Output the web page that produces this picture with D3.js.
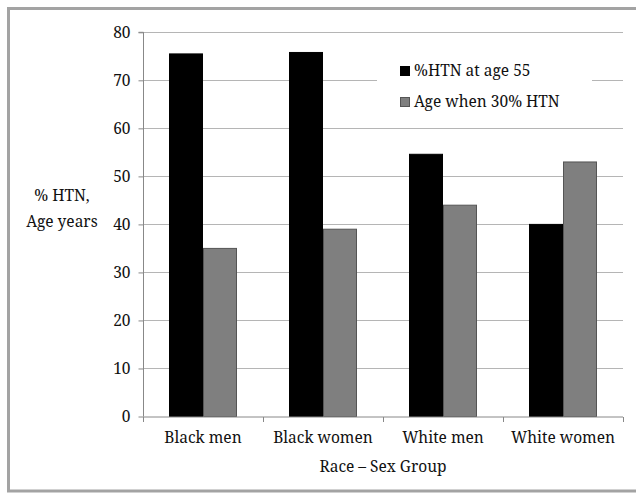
<!DOCTYPE html>
<html><head><meta charset="utf-8">
<script src="https://cdn.jsdelivr.net/npm/d3@7"></script>
<style>body{margin:0;background:#fff;}</style></head>
<body><svg id="c" width="636" height="493"></svg>
<script>
const categories = ["Black men","Black women","White men","White women"];
const seriesNames = ["%HTN at age 55","Age when 30% HTN"];
const htnAt55 = [75.5, 75.8, 54.6, 40];
const ageAt30 = [35, 39, 44, 53];
const yTicks = [0,10,20,30,40,50,60,70,80];
const colors = ["#000000","#7f7f7f"];
const strokes = ["#000000","#555555"];
const FONT = '"Noto Serif", "Liberation Serif", serif';
const FS = 15.5;

const svg = d3.select("#c");
// frame
svg.append("rect").attr("x",8.5).attr("y",8.5).attr("width",640).attr("height",482.5)
  .attr("fill","#fff").attr("stroke","#a3a3a3").attr("stroke-width",3);

const pL=143, pR=623, pT=32.3, pB=416.5;
const x = d3.scaleBand().domain(categories).range([pL,pR]);
const y = d3.scaleLinear().domain([0,80]).range([pB,pT]);
const xs = d3.scaleBand().domain([0,1]).range([0,68]);

// gridlines
svg.append("g").selectAll("line").data(yTicks.filter(d=>d>0)).join("line")
  .attr("x1",pL).attr("x2",pR).attr("y1",d=>Math.round(y(d))+0.5).attr("y2",d=>Math.round(y(d))+0.5)
  .attr("stroke","#b5b5b5").attr("stroke-width",1);

// legend background
svg.append("rect").attr("x",377).attr("y",50).attr("width",215).attr("height",66).attr("fill","#fff");

// bars
const data = categories.map((c,i)=>({c, v:[htnAt55[i], ageAt30[i]]}));
const g = svg.append("g").selectAll("g").data(data).join("g")
  .attr("transform",d=>`translate(${x(d.c)+x.bandwidth()/2-34},0)`);
g.selectAll("rect").data(d=>d.v.map((v,k)=>({v,k}))).join("rect")
  .attr("x",d=>xs(d.k)+0.5).attr("width",xs.bandwidth()-1)
  .attr("y",d=>y(d.v)).attr("height",d=>pB-y(d.v))
  .attr("fill",d=>colors[d.k]).attr("stroke",d=>strokes[d.k]).attr("stroke-width",1);

// y axis
const ya = svg.append("g").attr("transform",`translate(${pL+0.5},0)`)
  .call(d3.axisLeft(y).tickValues(yTicks).tickSize(5).tickPadding(8));
ya.attr("font-family",FONT).attr("font-size",FS);
ya.select(".domain").attr("stroke","#888").attr("d",`M-5,${pT}H0V${pB}`);
ya.selectAll(".tick line").attr("stroke","#888");
ya.selectAll(".tick text").attr("fill","#111");

// x axis
const xa = svg.append("g").attr("transform",`translate(0,${pB+0.5})`);
xa.append("line").attr("x1",pL).attr("x2",pR).attr("stroke","#888");
const bounds = categories.map(c=>x(c)).concat([pR]);
xa.selectAll("line.t").data(bounds).join("line").attr("class","t")
  .attr("x1",d=>Math.round(d)+0.5).attr("x2",d=>Math.round(d)+0.5).attr("y1",0).attr("y2",5).attr("stroke","#888");
xa.selectAll("text").data(categories).join("text")
  .attr("x",d=>x(d)+x.bandwidth()/2).attr("y",26).attr("text-anchor","middle")
  .attr("font-family",FONT).attr("font-size",FS).attr("fill","#111").text(d=>d);

// axis titles
function label(t,xx,yy){
  svg.append("text").attr("x",xx).attr("y",yy).attr("text-anchor","middle")
    .attr("font-family",FONT).attr("font-size",FS).attr("fill","#111").text(t);
}
label("Race – Sex Group",383,472);
label("% HTN,",62,201);
label("Age years",62,227);

// legend
const lg = svg.append("g").selectAll("g").data(seriesNames).join("g")
  .attr("transform",(d,i)=>`translate(400,${66+i*31})`);
lg.append("rect").attr("x",0.5).attr("y",0.5).attr("width",9).attr("height",9)
  .attr("fill",(d,i)=>colors[i]).attr("stroke",(d,i)=>strokes[i]);
lg.append("text").attr("x",14).attr("y",10).attr("font-family",FONT).attr("font-size",FS).attr("fill","#111").text(d=>d);
</script></body></html>
